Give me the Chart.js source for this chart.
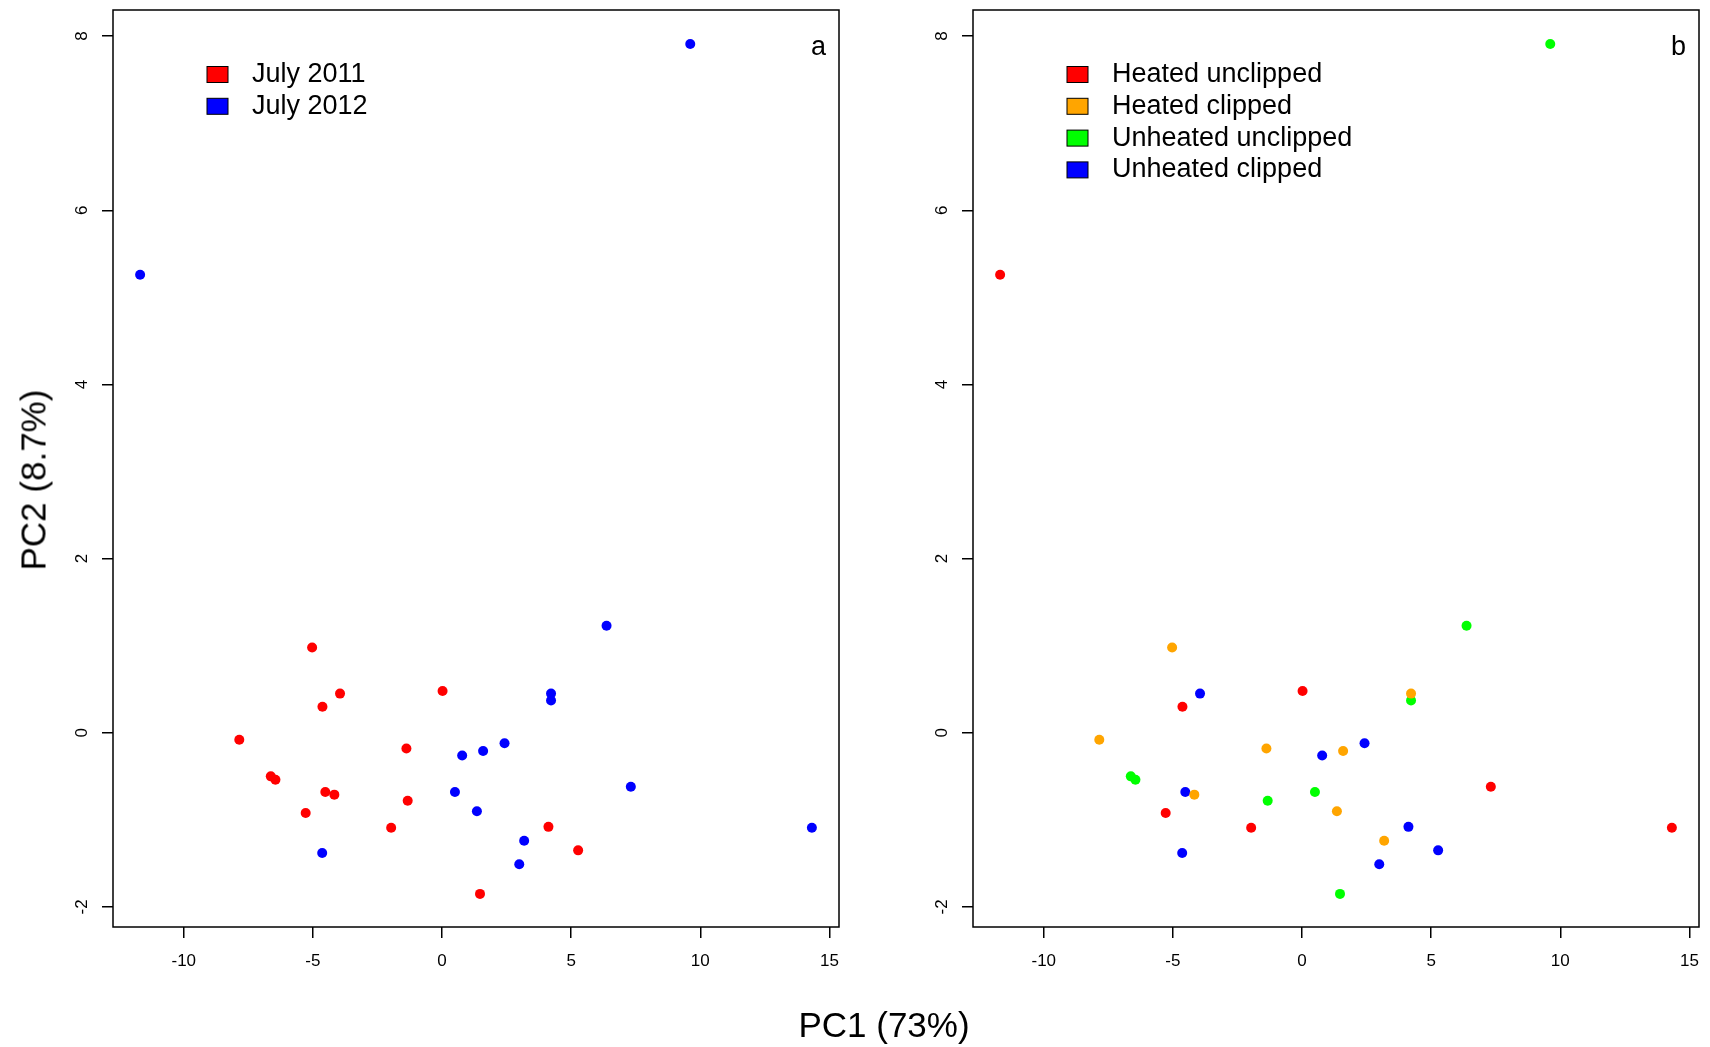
<!DOCTYPE html>
<html>
<head>
<meta charset="utf-8">
<title>PCA – PC1 vs PC2</title>
<script src="https://cdn.jsdelivr.net/npm/chart.js@4.4.1/dist/chart.umd.min.js"></script>
<style>
  html, body { margin: 0; padding: 0; background: #fff; }
  body { width: 1710px; height: 1047px; position: relative; overflow: hidden; font-family: "Liberation Sans", Arial, sans-serif; }
  canvas { position: absolute; top: 0; }
  #panelA { left: 0; }
  #panelB { left: 860px; }
  .axisTitle { position: absolute; font-size: 35px; line-height: 35px; white-space: nowrap; color: #000; }
  #xTitle { left: 884px; top: 1023.5px; transform: translate(-50%, -50%); }
  #yTitle { left: 33px; top: 480px; transform: translate(-50%, -50%) rotate(-90deg); }
</style>
</head>
<body>
<canvas id="panelA" width="860" height="1047"></canvas>
<canvas id="panelB" width="850" height="1047"></canvas>
<div class="axisTitle" id="xTitle">PC1 (73%)</div>
<div class="axisTitle" id="yTitle">PC2 (8.7%)</div>

<script>
// scores per sample (same 31 samples in both panels)
const pc1 = [
  -5.03, -3.95, -4.63, 0.02, -7.85, -1.38, -6.63, -6.45, -4.52, -4.17, -1.33, -5.28, -1.97, 4.12, 5.27, 1.47,
  -11.69, 9.61, 6.37, 4.22, 4.22, 2.42, 1.59, 0.78, 0.50, 7.31, 1.35, 3.18, 2.99, -4.64, 14.32
];
const pc2 = [
  0.98, 0.45, 0.30, 0.48, -0.08, -0.18, -0.50, -0.54, -0.68, -0.71, -0.78, -0.92, -1.09, -1.08, -1.35, -1.85,
  5.26, 7.91, 1.23, 0.45, 0.37, -0.12, -0.21, -0.26, -0.68, -0.62, -0.90, -1.24, -1.51, -1.38, -1.09
];
const sampleYear = [
  'July 2011', 'July 2011', 'July 2011', 'July 2011', 'July 2011', 'July 2011', 'July 2011', 'July 2011',
  'July 2011', 'July 2011', 'July 2011', 'July 2011', 'July 2011', 'July 2011', 'July 2011', 'July 2011',
  'July 2012', 'July 2012', 'July 2012', 'July 2012', 'July 2012', 'July 2012', 'July 2012', 'July 2012',
  'July 2012', 'July 2012', 'July 2012', 'July 2012', 'July 2012', 'July 2012', 'July 2012'
];
const sampleTreatment = [
  'Heated clipped', 'Unheated clipped', 'Heated unclipped', 'Heated unclipped', 'Heated clipped', 'Heated clipped',
  'Unheated unclipped', 'Unheated unclipped', 'Unheated clipped', 'Heated clipped', 'Unheated unclipped',
  'Heated unclipped', 'Heated unclipped', 'Unheated clipped', 'Unheated clipped', 'Unheated unclipped',
  'Heated unclipped', 'Unheated unclipped', 'Unheated unclipped', 'Heated clipped', 'Unheated unclipped',
  'Unheated clipped', 'Heated clipped', 'Unheated clipped', 'Unheated unclipped', 'Heated unclipped',
  'Heated clipped', 'Heated clipped', 'Unheated clipped', 'Unheated clipped', 'Heated unclipped'
];

const yearLabels = ['July 2011', 'July 2012'];
const yearColors = ['#ff0000', '#0000ff'];
const treatmentLabels = ['Heated unclipped', 'Heated clipped', 'Unheated unclipped', 'Unheated clipped'];
const treatmentColors = ['#ff0000', '#ffa500', '#00ff00', '#0000ff'];

const xTicks = [-10, -5, 0, 5, 10, 15];
const yTicks = [-2, 0, 2, 4, 6, 8];
const xRange = [-12.74, 15.37];
const yRange = [-2.23, 8.30];

const FONT = '"Liberation Sans", Arial, sans-serif';

// one dataset per group, points taken from pc1/pc2
function buildDatasets(groupOf, labels, colors) {
  return labels.map((lab, g) => ({
    label: lab,
    data: pc1.map((x, i) => ({ x: x, y: pc2[i], grp: groupOf[i] })).filter(p => p.grp === lab),
    backgroundColor: colors[g],
    borderWidth: 0,
    pointRadius: 5,
    pointHoverRadius: 5
  }));
}

// frame, legend in the top-left, panel letter in the top-right
const panelDecor = {
  id: 'panelDecor',
  afterDraw(chart, args, opts) {
    const { ctx, chartArea: a } = chart;
    ctx.save();
    ctx.strokeStyle = '#000';
    ctx.lineWidth = 1.5;
    ctx.strokeRect(a.left, a.top, a.right - a.left, a.bottom - a.top);

    ctx.font = '27px ' + FONT;
    ctx.textAlign = 'left';
    ctx.textBaseline = 'middle';
    chart.data.datasets.forEach((ds, i) => {
      const cy = a.top + 64.5 + i * 31.8;
      ctx.fillStyle = ds.backgroundColor;
      ctx.fillRect(a.left + 94, cy - 8, 21, 16);
      ctx.lineWidth = 1;
      ctx.strokeStyle = '#000';
      ctx.strokeRect(a.left + 94, cy - 8, 21, 16);
      ctx.fillStyle = '#000';
      ctx.fillText(ds.label, a.left + 139, cy);
    });

    ctx.textAlign = 'right';
    ctx.textBaseline = 'alphabetic';
    ctx.fillText(opts.letter, a.right - 13, a.top + 45);
    ctx.restore();
  }
};

// fixed axis sizes so the plot boxes land where R put them
function fixHeight(s) { s.height = 120; s.paddingLeft = 0; s.paddingRight = 0; }
function fixWidth(s) { s.width = 113; s.paddingTop = 0; s.paddingBottom = 0; }

function makePanel(canvasId, datasets, letter, padRight) {
  return new Chart(document.getElementById(canvasId), {
    type: 'scatter',
    data: { datasets: datasets },
    options: {
      responsive: false,
      animation: false,
      events: [],
      layout: { padding: { left: 0, top: 10, right: padRight, bottom: 0 } },
      plugins: {
        legend: { display: false },
        tooltip: { enabled: false },
        panelDecor: { letter: letter }
      },
      scales: {
        x: {
          type: 'linear',
          min: xRange[0],
          max: xRange[1],
          afterBuildTicks: s => { s.ticks = xTicks.map(v => ({ value: v })); },
          afterFit: fixHeight,
          border: { display: false },
          grid: { drawOnChartArea: false, drawTicks: true, tickLength: 11, color: '#000', lineWidth: 1.5 },
          ticks: {
            autoSkip: false,
            padding: 13,
            color: '#000',
            font: { family: FONT, size: 17 },
            callback: v => String(v)
          }
        },
        y: {
          type: 'linear',
          min: yRange[0],
          max: yRange[1],
          afterBuildTicks: s => { s.ticks = yTicks.map(v => ({ value: v })); },
          afterFit: fixWidth,
          border: { display: false },
          grid: { drawOnChartArea: false, drawTicks: true, tickLength: 11, color: '#000', lineWidth: 1.5 },
          ticks: {
            autoSkip: false,
            minRotation: 90,
            maxRotation: 90,
            crossAlign: 'center',
            padding: 12.5,
            color: '#000',
            font: { family: FONT, size: 17 },
            callback: v => String(v)
          }
        }
      }
    },
    plugins: [panelDecor]
  });
}

makePanel('panelA', buildDatasets(sampleYear, yearLabels, yearColors), 'a', 21);
makePanel('panelB', buildDatasets(sampleTreatment, treatmentLabels, treatmentColors), 'b', 11);
</script>
</body>
</html>
